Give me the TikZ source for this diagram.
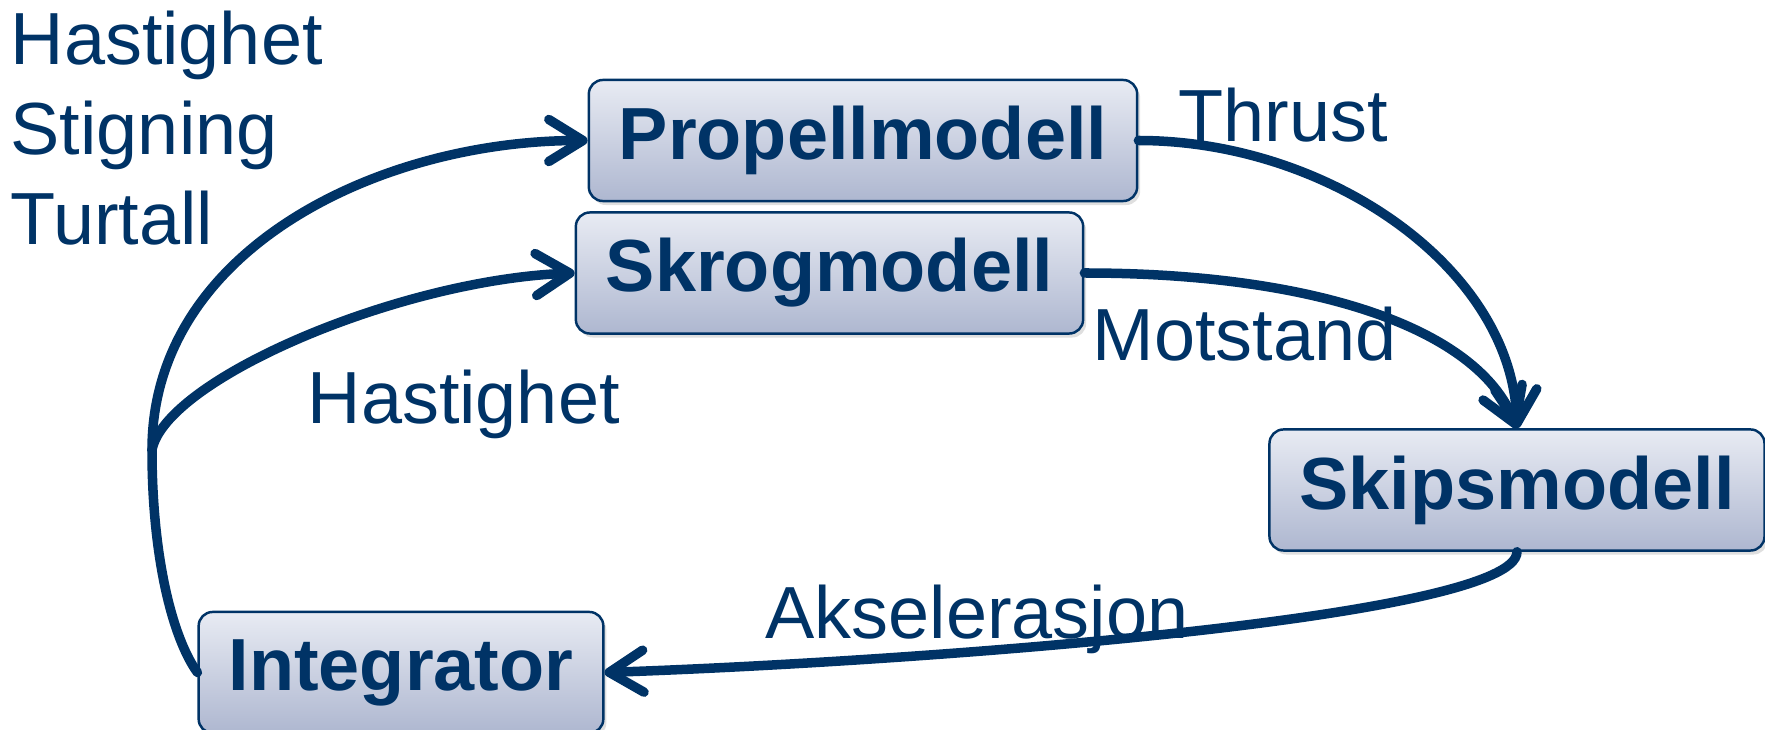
\documentclass[tikz,border=0pt]{standalone}
\usepackage{fontspec}
\setmainfont{Liberation Sans}
\usetikzlibrary{arrows.meta,shadows}
\definecolor{navy}{RGB}{0,51,102}
\definecolor{boxtop}{RGB}{232,235,243}
\definecolor{boxbot}{RGB}{174,183,208}

\begin{document}
\begin{tikzpicture}[x=0.01cm,y=0.01cm,
    blokk/.style={draw=navy,line width=0.7pt,rounded corners=0.14cm,top color=boxtop,bottom color=boxbot,
      minimum height=1.21cm,inner xsep=0.3cm,text=navy,font=\fontsize{21}{25}\selectfont\bfseries,
      drop shadow={shadow xshift=0.03cm,shadow yshift=-0.04cm,opacity=0.25}},
    lbl/.style={text=navy,inner sep=0pt,font=\fontsize{21}{25}\selectfont},
    flow/.style={draw=navy,line width=0.095cm,line cap=round},
    pil/.style={flow,-{Straight Barb[length=0.34cm,width=0.42cm,round]}}]
  \useasboundingbox (0,0) rectangle (1765,730);
  \node[blokk] (prop) at (863,589.5) {Propellmodell};
  \node[blokk] (skrog) at (829.5,457) {Skrogmodell};
  \node[blokk] (skip) at (1517,240) {Skipsmodell};
  \node[blokk] (integ) at (401,57.5) {Integrator};
  \foreach \w/\y in {Hastighet/665,Stigning/575,Turtall/485}
    \node[lbl,anchor=base west] (inn\w) at (10,\y) {\w};
  \node[lbl,anchor=base west] (thrust) at (1178,588) {Thrust};
  \node[lbl,anchor=base west] (motstand) at (1092,369) {Motstand};
  \node[lbl,anchor=base west] (hast) at (307,306) {Hastighet};
  \node[lbl,anchor=base west] (aksel) at (765,91) {Akselerasjon};
  \coordinate (split) at (152,280);
  \draw[flow] (integ.west) .. controls +(-24,33) and +(0,-110) .. (split);
  \draw[pil] (split) .. controls +(0,200) and +(-209,0) .. (prop.west);
  \draw[pil] (split) .. controls +(13,70) and +(-177,-7) .. (skrog.west);
  \draw[pil] (prop.east) .. controls +(190,0) and +(-5,160) .. (skip.north);
  \draw[pil] (skrog.east) .. controls +(230,0) and +(-40,100) .. (skip.north);
  \draw[pil] (skip.south) .. controls +(0,-67) and +(296,10) .. (integ.east);
\end{tikzpicture}
\end{document}
